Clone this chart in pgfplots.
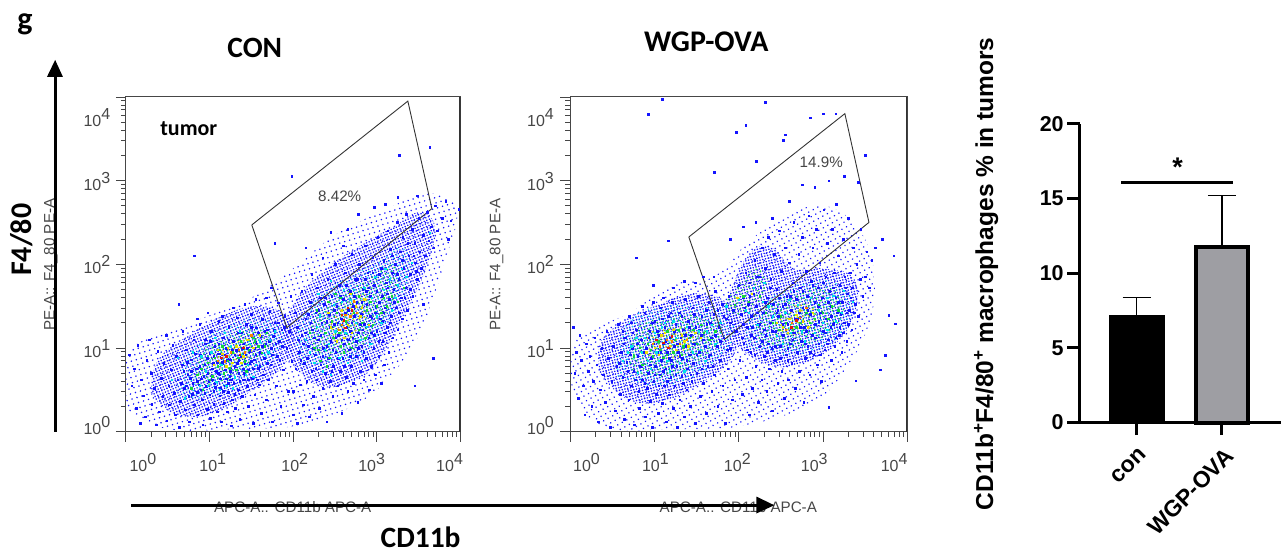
\documentclass[border=0pt]{standalone}
\usepackage{pgfplots}
\pgfplotsset{compat=1.18}
\usetikzlibrary{patterns.meta}
\usepackage{fontspec}
\setmainfont{Carlito}
\newfontfamily\ar{Liberation Sans}
\definecolor{fb}{RGB}{20,20,255}
\definecolor{fc}{RGB}{0,225,235}
\definecolor{fg}{RGB}{20,215,60}
\definecolor{fy}{RGB}{235,225,0}
\definecolor{fo}{RGB}{250,130,0}
\definecolor{fr}{RGB}{225,25,10}
\definecolor{tg}{RGB}{70,70,70}
\newcommand\pw[1]{{\ar\fontsize{16}{16}\selectfont\color{tg}10\raisebox{7pt}{#1}}}
\newcommand\fl[1]{{\ar\fontsize{15.2}{15.2}\selectfont\color{tg}#1}}
\pgfplotsset{
 flow/.style={scale only axis,width=335pt,height=335pt,xmin=0,xmax=4,ymin=0,ymax=4,
  xtick={0,1,2,3,4},ytick={0,1,2,3,4},
  minor xtick={.301,.477,.602,.699,.778,.845,.903,.954,1.301,1.477,1.602,1.699,1.778,1.845,1.903,1.954,2.301,2.477,2.602,2.699,2.778,2.845,2.903,2.954,3.301,3.477,3.602,3.699,3.778,3.845,3.903,3.954},
  minor ytick={.301,.477,.602,.699,.778,.845,.903,.954,1.301,1.477,1.602,1.699,1.778,1.845,1.903,1.954,2.301,2.477,2.602,2.699,2.778,2.845,2.903,2.954,3.301,3.477,3.602,3.699,3.778,3.845,3.903,3.954},
  xticklabels={},yticklabels={},tick align=outside,xtick pos=bottom,ytick pos=left,
  major tick length=10pt,minor tick length=5pt,
  axis line style={draw=tg,line width=.9pt},
  tick style={draw=tg,line width=.8pt},
  minor tick style={draw=tg,line width=.8pt}},
 pb/.style={only marks,mark=square*,mark size=.8pt,fb,mark options={draw=none}},
 pc/.style={only marks,mark=square*,mark size=.65pt,fc,mark options={draw=none}},
 pg/.style={only marks,mark=square*,mark size=.7pt,fg,mark options={draw=none}},
 py/.style={only marks,mark=square*,mark size=.7pt,fy,mark options={draw=none}},
 po/.style={only marks,mark=square*,mark size=.7pt,fo,mark options={draw=none}},
 pr/.style={only marks,mark=square*,mark size=.7pt,fr,mark options={draw=none}},
 st/.style n args={4}{draw=none,no marks,smooth,tension=.7,pattern={Dots[distance=#2pt,radius=#3pt,angle=#4]},pattern color=#1},
 gate/.style={draw=black!80,line width=.9pt,no marks}}
\begin{document}
\begin{tikzpicture}[x=1pt,y=1pt]
\path (0,0) rectangle (1282,554);
% ---------- headings
\node[font=\fontsize{32}{32}\selectfont\bfseries] at (25,530) {g};
\node[font=\fontsize{29.5}{29.5}\selectfont\bfseries] at (255,506) {CON};
\node[font=\fontsize{30}{30}\selectfont\bfseries] at (707,512) {WGP-OVA};
\node[font=\fontsize{30}{30}\selectfont\bfseries,rotate=90] at (22,314) {F4/80};
\node[font=\fontsize{29.5}{29.5}\selectfont\bfseries,inner sep=0pt] at (421,16) {CD11b};
% ---------- CON
\begin{axis}[flow,at={(126pt,122pt)},anchor=south west]
\addplot[st={fb}{5.2}{.85}{17}] coordinates {(.02,.25)(.5,.03)(1.3,.03)(2.1,.08)(2.7,.3)(3.1,.6)(3.5,1.15)(3.8,2.0)(3.95,2.65)(3.6,2.85)(3.1,2.65)(2.5,2.35)(2,1.95)(1.5,1.6)(.9,1.35)(.35,1.15)(.02,.9)(.02,.25)} --cycle;
\addplot[st={fb}{2.8}{.9}{23}] coordinates {(.3,.45)(.6,.2)(1.05,.22)(1.45,.45)(1.85,.75)(2.02,1.1)(1.9,1.4)(1.55,1.5)(1.15,1.38)(.75,1.15)(.38,.85)(.3,.45)} --cycle;
\addplot[st={fb}{2.8}{.9}{23}] coordinates {(1.95,.85)(2.3,.55)(2.72,.6)(3.02,.85)(3.3,1.35)(3.55,1.85)(3.7,2.4)(3.52,2.62)(3.2,2.45)(2.8,2.22)(2.4,1.95)(2.05,1.6)(1.88,1.2)(1.95,.85)} --cycle;
\addplot[st={fc}{4.6}{.8}{38}] coordinates {(.6,.4)(1.2,.45)(1.7,.8)(1.9,1.15)(1.6,1.35)(1.2,1.25)(.75,.95)(.6,.4)} --cycle;
\addplot[st={fc}{4.6}{.8}{38}] coordinates {(2.1,.8)(2.75,.85)(3.1,1.25)(3.4,1.8)(3.3,2.2)(2.85,1.95)(2.35,1.65)(2.05,1.25)(2.1,.8)} --cycle;
\addplot[st={fg}{4.8}{.9}{61}] coordinates {(.85,.55)(1.2,.6)(1.55,.85)(1.75,1.1)(1.6,1.25)(1.25,1.15)(.9,.95)(.85,.55)} --cycle;
\addplot[st={fg}{4.8}{.9}{61}] coordinates {(2.25,.95)(2.7,.95)(3,1.25)(3.25,1.7)(3.2,2.0)(2.85,1.8)(2.45,1.55)(2.2,1.25)(2.25,.95)} --cycle;
\addplot[st={fy}{5.6}{.9}{11}] coordinates {(1.05,.75)(1.35,.8)(1.55,1.0)(1.45,1.12)(1.15,.98)(1.05,.75)} --cycle;
\addplot[st={fy}{5.6}{.9}{11}] coordinates {(2.45,1.1)(2.7,1.1)(2.9,1.45)(2.85,1.65)(2.6,1.5)(2.45,1.3)(2.45,1.1)} --cycle;
\addplot[pb] coordinates {(.04,.92)(.07,.55)(.1,.75)(.12,.28)(.14,1.03)(.17,.1)(.18,.62)(.21,.43)(.23,.18)(.25,.85)(.28,1.1)(.3,.7)(.31,.33)(.34,.52)(.36,.08)(.38,.96)(.4,.24)(.42,.64)(.44,.42)(.45,.82)(.48,1.15)(.49,.13)(.51,.55)(.52,.32)(.54,.74)(.56,1.03)(.58,.46)(.59,.2)(.6,.9)(.62,.62)(.64,.05)(.65,.36)(.67,.8)(.68,1.2)(.7,.52)(.71,.26)(.72,.98)(.74,.68)(.75,.42)(.76,.12)(.78,.86)(.8,.58)(.81,1.1)(.82,.32)(.84,.75)(.85,.47)(.86,.2)(.88,1.28)(.89,.92)(.9,.63)(.91,.38)(.92,.08)(.94,.8)(.95,1.05)(.96,.54)(.97,.27)(.98,.7)(1,.94)(1,.44)(1.01,.16)(1.02,1.2)(1.03,.62)(1.04,.82)(1.05,.33)(1.06,1.02)(1.07,.53)(1.08,.72)(1.09,.24)(1.1,.93)(1.11,1.32)(1.12,.43)(1.13,.63)(1.14,.12)(1.15,.83)(1.16,1.12)(1.17,.34)(1.18,.55)(1.19,.74)(1.2,1)(1.21,.24)(1.22,.47)(1.23,1.25)(1.24,.66)(1.25,.86)(1.26,.07)(1.27,.38)(1.28,1.08)(1.29,.58)(1.3,.78)(1.31,.28)(1.32,.97)(1.33,1.36)(1.34,.5)(1.35,.7)(1.36,.15)(1.37,.9)(1.38,1.18)(1.39,.42)(1.4,.62)(1.41,1.05)(1.42,.82)(1.44,1.28)(1.45,.54)(1.46,.3)(1.47,.74)(1.48,.96)(1.49,1.15)(1.5,1.4)(1.51,.64)(1.52,.1)(1.53,.86)(1.54,.44)(1.55,1.06)(1.56,1.24)(1.58,.76)(1.59,.56)(1.6,.95)(1.61,1.14)(1.62,.22)(1.63,1.34)(1.64,.68)(1.65,.88)(1.67,1.05)(1.68,.38)(1.69,1.22)(1.7,.62)(1.72,1.44)(1.73,.8)(1.74,1.0)(1.75,.12)(1.76,1.14)(1.78,1.3)(1.8,.55)(1.81,.9)(1.82,1.54)(1.83,1.08)(1.85,.3)(1.86,1.22)(1.88,.74)(1.9,1.38)(1.92,1.0)(1.94,.48)(1.95,1.2)(1.97,1.62)(2,.2)(1.98,.84)(.85,1.35)(.98,1.42)(1.15,1.38)(1.28,1.48)(1.42,1.52)(1.55,1.58)(1.68,1.6)(1.74,1.72)(.82,2.1)(.63,1.52)(.95,1.1)(1.05,.9)(1.1,.7)(1.18,.92)(1.25,.72)(1.3,.92)(1.35,.85)(1.4,.75)(1.45,1.0)(1.5,.84)(1.55,.92)(1.05,.48)(1.13,.52)(1.22,.58)(.9,.5)(.85,.6)(.78,.72)(.72,.55)
(.66,.58)(.69,.72)(.73,.83)(.77,.64)(.79,.45)(.83,.93)(.87,.56)(.88,.78)(.93,.66)(.94,.46)(.97,.88)(.99,.6)(1.01,1.08)(1.03,.75)(1.06,.58)(1.09,.83)(1.11,1.05)(1.12,.68)(1.14,.93)(1.16,.48)(1.2,.63)(1.21,.85)(1.23,1.1)(1.26,.62)(1.27,.98)(1.3,.45)(1.33,.82)(1.34,1.18)(1.36,.6)(1.39,1.0)(1.41,.7)(1.43,.92)(1.46,.62)(1.48,.82)(1.5,1.25)(1.52,.75)(1.54,1.0)(1.57,.62)(1.58,1.18)(1.6,.78)(1.63,1.02)(1.66,1.2)(1.69,.82)(1.71,1.08)(1.75,.92)(1.77,1.22)(1.79,1.05)(1.82,1.3)(1.84,.85)(1.87,1.02)(1.89,1.25)
(2,.48)(2.03,.75)(2.05,.1)(2.07,.95)(2.08,.56)(2.1,1.15)(2.12,.32)(2.13,.82)(2.15,1.35)(2.16,.6)(2.18,1.02)(2.19,.18)(2.2,1.55)(2.22,.72)(2.23,1.22)(2.24,.42)(2.26,.92)(2.27,1.42)(2.28,.62)(2.29,1.72)(2.3,1.1)(2.31,.28)(2.33,.8)(2.34,1.3)(2.35,.52)(2.36,1.0)(2.37,1.52)(2.38,.7)(2.39,1.18)(2.4,.12)(2.41,1.82)(2.42,.88)(2.43,1.4)(2.44,.6)(2.45,1.08)(2.46,1.62)(2.47,.42)(2.48,.78)(2.49,1.28)(2.5,2.0)(2.51,.95)(2.52,1.5)(2.53,.55)(2.54,1.15)(2.55,1.75)(2.56,.72)(2.57,1.35)(2.58,.22)(2.59,.88)(2.6,1.58)(2.61,1.05)(2.62,1.9)(2.63,.65)(2.64,1.25)(2.65,.48)(2.66,1.45)(2.67,.98)(2.68,1.68)(2.69,.78)(2.7,2.12)(2.71,1.12)(2.72,.58)(2.73,1.38)(2.74,1.82)(2.75,.9)(2.76,1.55)(2.77,.35)(2.78,1.18)(2.79,2.0)(2.8,.72)(2.81,1.4)(2.82,1.02)(2.83,1.7)(2.84,.62)(2.85,1.28)(2.86,2.22)(2.87,.88)(2.88,1.52)(2.89,1.9)(2.9,1.12)(2.91,.5)(2.92,1.62)(2.93,.78)(2.94,1.36)(2.95,2.08)(2.96,1.0)(2.97,1.75)(2.98,.68)(2.99,1.5)(3,1.2)(3.01,2.32)(3.02,.9)(3.03,1.88)(3.04,1.35)(3.05,.58)(3.06,1.62)(3.07,1.08)(3.08,2.05)(3.09,.8)(3.1,1.48)(3.11,1.78)(3.12,1.25)(3.13,2.4)(3.14,.95)(3.15,1.58)(3.16,2.18)(3.17,1.38)(3.18,1.9)(3.19,1.12)(3.2,1.7)(3.22,2.0)(3.23,1.48)(3.24,2.5)(3.25,1.22)(3.26,1.82)(3.28,2.15)(3.29,1.6)(3.3,1.35)(3.31,2.32)(3.32,1.95)(3.34,1.72)(3.35,2.6)(3.36,1.45)(3.38,2.1)(3.4,1.88)(3.42,2.42)(3.43,1.62)(3.45,2.25)(3.46,2.02)(3.48,1.82)(3.5,2.55)(3.51,2.15)(3.53,1.95)(3.55,2.35)(3.58,2.1)(3.6,2.62)(3.62,2.28)(3.65,2.45)(3.68,2.2)(3.7,2.7)(3.72,2.4)(3.78,2.55)(3.82,2.75)(3.88,2.52)(3.98,2.66)(3.85,2.3)(3.45,.55)(3.55,1.52)(3.67,.88)(3.48,2.82)(3.25,2.8)(3.1,2.72)(2.97,2.68)(3.27,3.3)(3.63,3.4)(2.78,2.6)(2.65,2.42)(1.98,3.05)(2.15,2.2)(1.78,2.25)(2.45,2.38)(2.6,2.22)(2.35,2.08)(2.22,1.88)(2.1,1.68)(2.02,1.42)(2.05,1.25)(2.12,1.05)(2.18,1.4)(2.25,1.12)(2.32,1.6)(2.4,1.32)(2.47,.98)(2.53,1.3)(2.58,1.1)(2.62,1.42)(2.68,1.2)(2.72,1.5)(2.78,1.0)(2.83,1.22)(2.87,1.68)(2.92,1.38)(2.97,1.15)(3.03,1.55)(3.07,1.32)(3.12,1.65)
(2.06,1.1)(2.09,.85)(2.14,1.18)(2.17,.88)(2.21,1.3)(2.24,1.0)(2.27,.75)(2.3,1.45)(2.33,1.15)(2.35,.9)(2.38,1.6)(2.4,1.02)(2.44,1.25)(2.46,.72)(2.49,1.45)(2.51,1.12)(2.54,.88)(2.56,1.62)(2.59,1.22)(2.61,.78)(2.63,1.75)(2.66,1.1)(2.68,.9)(2.7,1.3)(2.73,1.62)(2.75,1.08)(2.77,1.82)(2.8,1.28)(2.82,1.55)(2.84,.95)(2.86,1.82)(2.9,1.72)(2.93,1.18)(2.95,1.9)(2.98,1.42)(3,1.68)(3.02,1.08)(3.05,1.95)(3.08,1.42)(3.1,1.18)(3.13,1.72)(3.16,1.3)(3.18,2.1)(3.21,1.55)(3.24,1.88)(3.27,1.42)(3.3,2.05)(3.33,1.6)(3.37,2.25)(3.4,1.7)(3.44,2.1)(3.47,1.92)};
\addplot[pc] coordinates {(.95,.72)(1.02,.95)(1.08,.6)(1.14,.8)(1.2,.55)(1.25,1.02)(1.3,.65)(1.38,.92)(1.43,.68)(1.48,1.05)(1.55,.8)(1.6,1.08)(1.66,.92)(1.72,1.1)(1.78,1.2)(.7,.4)(.55,.62)(.88,.55)(2.2,.95)(2.28,1.25)(2.35,.72)(2.42,1.05)(2.48,1.52)(2.55,.88)(2.62,1.18)(2.68,1.58)(2.75,1.3)(2.82,.85)(2.88,1.25)(2.94,1.6)(3,1.38)(3.08,1.7)(3.15,1.82)(3.22,1.6)(3.3,1.95)(3.42,2.02)(2.3,1.65)(2.45,1.8)(2.6,1.7)(3.63,2.38)(.8,.95)(.62,.88)(.9,.9)(.98,.55)(1.06,1.12)(1.12,.5)(1.18,1.18)(1.28,.52)(1.36,1.2)(1.46,.8)(1.52,.66)(1.7,.95)(2.15,1.1)(2.25,.82)(2.32,1.38)(2.38,.98)(2.45,.68)(2.5,1.2)(2.58,1.55)(2.65,.82)(2.72,1.7)(2.8,1.1)(2.85,1.72)(2.92,1.05)(2.98,1.85)(3.05,1.3)(3.1,1.95)(3.18,1.45)(3.25,1.75)(3.35,1.85)};
\addplot[pg] coordinates {(.85,.68)(.92,.5)(.98,.82)(1.03,.66)(1.1,.78)(1.12,.98)(1.17,.7)(1.22,.85)(1.28,.95)(1.32,.74)(1.37,1.08)(1.42,.84)(1.47,.98)(1.52,1.12)(1.58,1.02)(1.62,.94)(1.68,1.18)(.78,.52)(2.25,1.0)(2.32,.85)(2.38,1.18)(2.43,.88)(2.48,1.12)(2.52,1.42)(2.57,1.02)(2.63,1.32)(2.66,1.05)(2.72,1.42)(2.78,1.62)(2.82,1.3)(2.88,1.45)(2.92,1.55)(3.0,1.5)(3.05,1.42)(3.12,1.5)(2.28,1.45)(2.42,1.55)(2.5,1.65)(2.56,1.6)(3.32,1.72)(.9,.75)(1,.62)(1.06,.88)(1.15,1.02)(1.24,.76)(1.34,.88)(1.44,.72)(1.54,1.08)(1.66,1.02)(2.2,1.18)(2.3,.98)(2.4,.78)(2.46,1.32)(2.55,1.18)(2.6,.95)(2.7,1.0)(2.78,1.22)(2.86,1.12)(2.95,1.28)(3.08,1.6)(3.18,1.62)(3.25,1.55)};
\addplot[py] coordinates {(1.05,.8)(1.15,.93)(1.2,.78)(1.27,.82)(1.32,1.02)(1.38,.82)(1.45,1.1)(1.52,1.0)(1.6,1.15)(2.45,1.25)(2.52,1.08)(2.58,1.45)(2.65,1.28)(2.7,1.18)(2.75,1.5)(2.82,1.48)(2.68,1.65)(2.9,1.28)(1.1,.98)(1.22,1.0)(1.4,.9)(2.42,1.42)(2.6,1.12)(2.8,1.38)(2.85,1.58)};
\addplot[po] coordinates {(1.1,.85)(1.18,.84)(1.25,.95)(1.35,.98)(1.42,.95)(1.5,1.15)(2.55,1.22)(2.62,1.4)(2.68,1.38)(2.76,1.42)(2.58,1.28)(2.72,1.56)};
\addplot[pr] coordinates {(1.14,.88)(1.2,.9)(1.36,.92)(1.4,1.0)(2.6,1.33)(2.65,1.48)(2.7,1.45)(2.62,1.24)(2.58,1.4)};
\addplot[gate] coordinates {(1.505,2.47)(3.37,3.95)(3.657,2.665)(1.924,1.242)(1.505,2.47)};
\draw[draw=black!80,line width=2.4pt] (rel axis cs:1,0)--(rel axis cs:1,1);
\end{axis}
% ---------- WGP-OVA
\begin{axis}[flow,at={(571pt,122pt)},anchor=south west,width=337pt]
\addplot[st={fb}{5.2}{.85}{29}] coordinates {(.02,.45)(.4,.05)(1.2,.03)(2,.06)(2.8,.3)(3.2,.65)(3.55,1.3)(3.6,1.95)(3.4,2.45)(3,2.7)(2.5,2.55)(2.1,2.25)(1.7,1.85)(1.2,1.75)(.7,1.42)(.2,1.2)(.02,1)(.02,.45)} --cycle;
\addplot[st={fb}{2.8}{.9}{14}] coordinates {(.35,.7)(.65,.4)(1.05,.35)(1.5,.55)(1.9,.85)(2.0,1.25)(1.85,1.55)(1.45,1.65)(1,1.5)(.6,1.3)(.35,1.05)(.35,.7)} --cycle;
\addplot[st={fb}{2.8}{.9}{14}] coordinates {(2,1.0)(2.4,.78)(2.85,.85)(3.2,1.1)(3.4,1.5)(3.35,1.85)(3.0,1.95)(2.65,1.95)(2.4,2.2)(2.15,2.15)(1.95,1.8)(1.85,1.4)(2,1.0)} --cycle;
\addplot[st={fc}{4.6}{.8}{47}] coordinates {(.55,.65)(1.1,.55)(1.65,.75)(1.95,1.2)(1.7,1.5)(1.15,1.5)(.65,1.3)(.55,.65)} --cycle;
\addplot[st={fc}{4.6}{.8}{47}] coordinates {(2.1,1.0)(2.7,.92)(3.2,1.15)(3.35,1.55)(3.1,1.8)(2.6,1.72)(2.15,1.4)(2.1,1.0)} --cycle;
\addplot[st={fg}{4.8}{.9}{68}] coordinates {(.7,.75)(1.1,.65)(1.55,.85)(1.8,1.2)(1.6,1.38)(1.15,1.38)(.75,1.2)(.7,.75)} --cycle;
\addplot[st={fg}{4.8}{.9}{68}] coordinates {(2.25,1.05)(2.7,1.0)(3.1,1.2)(3.25,1.5)(3.05,1.72)(2.6,1.62)(2.25,1.4)(2.25,1.05)} --cycle;
\addplot[st={fg}{4.8}{.9}{68}] coordinates {(1.9,1.4)(2.15,1.45)(2.35,1.75)(2.2,1.95)(2,1.75)(1.85,1.55)(1.9,1.4)} --cycle;
\addplot[st={fy}{5.6}{.9}{8}] coordinates {(.9,.92)(1.25,.88)(1.5,1.05)(1.45,1.22)(1.1,1.25)(.9,1.12)(.9,.92)} --cycle;
\addplot[st={fy}{5.6}{.9}{8}] coordinates {(2.45,1.15)(2.75,1.18)(2.95,1.35)(2.8,1.52)(2.5,1.42)(2.45,1.15)} --cycle;
\addplot[pb] coordinates {(.03,1.25)(.05,.7)(.07,.95)(.09,.4)(.11,1.15)(.13,.85)(.15,.55)(.17,.2)(.19,1.05)(.21,.72)(.23,.9)(.25,.3)(.27,.6)(.29,1.12)(.31,.8)(.33,.12)(.35,.5)(.37,1.0)(.39,.68)(.41,.35)(.43,1.2)(.45,.88)(.47,.05)(.49,.6)(.51,1.02)(.53,.25)(.55,.78)(.57,1.28)(.59,.45)(.6,.95)(.62,.65)(.64,.15)(.65,1.12)(.67,.83)(.69,.38)(.7,1.38)(.72,.55)(.73,1.0)(.75,.72)(.76,.08)(.78,1.22)(.8,.9)(.81,.48)(.82,.28)(.84,1.1)(.85,.62)(.86,.8)(.88,1.42)(.89,.18)(.9,1.0)(.91,.52)(.92,.7)(.94,1.2)(.95,.36)(.96,.88)(.97,.05)(.98,1.05)(.99,.6)(1,1.32)(1.01,.78)(1.02,.45)(1.03,.95)(1.04,.22)(1.05,1.15)(1.06,.68)(1.07,1.48)(1.08,.85)(1.09,.34)(1.1,1.05)(1.11,.55)(1.12,1.25)(1.13,.75)(1.14,.12)(1.15,.95)(1.16,1.38)(1.17,.44)(1.18,1.12)(1.19,.65)(1.2,.85)(1.21,1.55)(1.22,.28)(1.23,1.02)(1.24,.55)(1.25,1.28)(1.26,.78)(1.27,.05)(1.28,.95)(1.29,1.42)(1.3,.38)(1.31,1.12)(1.32,.66)(1.33,.88)(1.34,1.22)(1.35,.18)(1.36,1.58)(1.37,1.02)(1.38,.5)(1.39,.75)(1.4,1.32)(1.41,.92)(1.42,.3)(1.43,1.15)(1.44,.6)(1.45,1.48)(1.46,.82)(1.47,1.05)(1.48,.1)(1.49,1.25)(1.5,.7)(1.52,1.62)(1.53,.95)(1.54,.42)(1.55,1.15)(1.56,1.38)(1.58,.58)(1.6,1.02)(1.61,.22)(1.62,1.28)(1.63,.78)(1.64,1.55)(1.66,.92)(1.67,1.12)(1.68,.48)(1.7,1.4)(1.71,.68)(1.72,1.68)(1.74,1.02)(1.75,.3)(1.76,1.25)(1.78,.85)(1.8,1.52)(1.81,.55)(1.82,1.12)(1.84,.1)(1.85,1.35)(1.87,.75)(1.88,1.62)(1.9,1.0)(1.92,.38)(1.93,1.45)(1.95,.62)(1.97,1.2)(.62,1.2)(.72,1.3)(.85,1.5)(.98,1.55)(1.1,1.6)(1.22,1.72)(1.35,1.8)(1.48,1.78)(1.58,1.85)(1.7,1.85)(.98,1.75)(1.16,2.28)(.78,2.08)(1.09,3.97)(.92,3.79)(1.71,3.1)
(.58,.82)(.63,1.05)(.68,.72)(.71,.92)(.74,1.18)(.77,.62)(.79,1.05)(.83,.78)(.87,.95)(.88,.58)(.93,1.12)(.95,.8)(.97,1.3)(1,.68)(1.03,1.2)(1.05,.55)(1.07,.95)(1.09,1.35)(1.1,.72)(1.13,1.08)(1.15,.6)(1.17,.88)(1.19,1.42)(1.21,.78)(1.23,1.2)(1.25,.68)(1.27,1.05)(1.3,.9)(1.32,1.38)(1.34,.58)(1.36,1.15)(1.38,.85)(1.41,1.25)(1.43,.68)(1.45,1.05)(1.47,1.4)(1.5,.92)(1.53,1.22)(1.56,.75)(1.58,1.1)(1.61,1.45)(1.64,.9)(1.66,1.3)(1.69,.78)(1.72,1.15)(1.75,1.45)(1.78,1.08)(1.82,1.38)(1.86,.98)(1.9,1.3)
(2,1.75)(2.01,.85)(2.03,1.4)(2.04,.45)(2.05,1.6)(2.06,1.05)(2.08,1.9)(2.09,.65)(2.1,1.25)(2.11,1.52)(2.12,.2)(2.13,1.78)(2.14,.95)(2.15,1.38)(2.16,.52)(2.17,1.65)(2.18,1.12)(2.19,2.05)(2.2,.78)(2.21,1.5)(2.22,1.85)(2.23,.35)(2.24,1.28)(2.25,1.02)(2.26,1.72)(2.27,.62)(2.28,2.2)(2.29,1.42)(2.3,.9)(2.31,1.95)(2.32,1.15)(2.33,.48)(2.34,1.6)(2.35,2.32)(2.36,.75)(2.37,1.3)(2.38,1.82)(2.39,1.0)(2.4,.25)(2.41,1.52)(2.42,2.12)(2.43,.85)(2.44,1.2)(2.45,1.7)(2.46,.58)(2.47,1.38)(2.48,2.4)(2.49,1.02)(2.5,1.92)(2.51,.72)(2.52,1.5)(2.53,1.15)(2.54,.4)(2.55,2.2)(2.56,.92)(2.57,1.62)(2.58,1.28)(2.59,.62)(2.6,2.02)(2.61,1.05)(2.62,1.45)(2.63,.82)(2.64,1.78)(2.65,2.5)(2.66,1.18)(2.67,.52)(2.68,1.58)(2.69,.95)(2.7,1.35)(2.71,2.12)(2.72,.72)(2.73,1.72)(2.74,1.08)(2.75,2.32)(2.76,1.48)(2.77,.35)(2.78,1.25)(2.79,.88)(2.8,1.92)(2.81,1.62)(2.82,1.02)(2.83,2.58)(2.84,.68)(2.85,1.4)(2.86,1.8)(2.87,1.15)(2.88,2.2)(2.89,.92)(2.9,1.55)(2.91,1.28)(2.92,2.42)(2.93,.8)(2.94,1.72)(2.95,1.05)(2.96,2.02)(2.97,1.42)(2.98,.6)(2.99,1.6)(3,1.2)(3.01,2.65)(3.02,.98)(3.03,1.85)(3.04,1.35)(3.05,2.25)(3.06,1.1)(3.07,.29)(3.08,1.68)(3.09,1.5)(3.1,.85)(3.11,2.42)(3.12,1.28)(3.13,1.9)(3.14,1.02)(3.15,1.6)(3.16,2.72)(3.17,1.42)(3.18,2.1)(3.19,1.15)(3.2,1.75)(3.22,.95)(3.23,1.55)(3.24,2.3)(3.25,1.3)(3.26,1.85)(3.28,1.08)(3.29,1.65)(3.3,2.55)(3.31,1.45)(3.32,1.9)(3.34,1.22)(3.35,1.72)(3.36,2.2)(3.38,1.52)(3.39,.61)(3.4,2.0)(3.42,1.38)(3.44,1.82)(3.45,2.42)(3.47,1.62)(3.5,1.85)(3.52,2.15)(3.55,1.72)(3.58,2.05)(3.62,2.2)(3.68,.74)(3.74,.91)(3.78,1.39)(3.86,1.29)(3.7,2.3)(3.84,2.1)(3.42,2.98)(3.25,3.05)(3.07,3.0)(2.53,3.48)(2.21,3.23)(2.31,3.94)(2.08,3.66)(1.97,3.58)(2.55,3.55)(2.85,3.75)(3.0,3.8)(3.15,3.8)(2.75,2.95)(2.9,2.92)(2.4,2.55)(2.6,2.75)(3.5,3.3)(1.9,2.3)(2.05,2.45)(2.2,2.5)(2.45,1.42)(2.35,1.05)(2.58,1.0)(2.72,1.42)(2.95,1.32)(3.1,1.38)(3.2,1.25)(3.05,1.05)(2.8,1.2)(2.65,1.68)(2.48,1.6)(2.3,1.22)(2.15,1.15)(2.05,1.28)(3.28,1.42)
(2.04,1.12)(2.07,1.48)(2.1,.98)(2.13,1.62)(2.16,1.25)(2.19,.92)(2.22,1.42)(2.25,1.85)(2.28,1.08)(2.31,1.55)(2.34,.95)(2.37,1.72)(2.4,1.2)(2.43,1.02)(2.46,1.45)(2.49,.88)(2.52,1.28)(2.55,1.52)(2.58,.85)(2.61,1.62)(2.64,1.1)(2.67,1.35)(2.7,.95)(2.73,1.25)(2.76,1.68)(2.79,1.05)(2.82,1.45)(2.85,.95)(2.88,1.75)(2.91,1.12)(2.94,1.5)(2.97,.92)(3,1.78)(3.03,1.18)(3.06,1.55)(3.09,1.25)(3.12,1.72)(3.15,1.12)(3.18,1.55)(3.21,1.4)(3.24,1.18)(3.27,1.72)(3.3,1.28)(3.33,1.6)(3.37,1.42)};
\addplot[pc] coordinates {(.62,.85)(.72,1.02)(.8,.7)(.88,1.12)(.95,.75)(1,1.18)(1.05,.85)(1.12,1.3)(1.18,.72)(1.25,1.12)(1.3,.82)(1.38,1.25)(1.45,.95)(1.52,1.2)(1.6,.85)(1.68,1.28)(1.78,1.3)(1.85,1.5)(2.0,1.58)(2.08,1.45)(2.18,1.72)(2.3,1.78)(2.22,1.28)(2.35,1.5)(2.45,1.15)(2.55,1.42)(2.62,1.18)(2.7,1.52)(2.78,1.08)(2.85,1.6)(2.95,1.45)(3.05,1.6)(3.15,1.32)(3.25,1.68)(3.35,1.55)(3.05,1.22)(.68,.95)(.78,1.12)(.85,.95)(.92,.85)(1.02,.95)(1.08,1.25)(1.15,.85)(1.22,1.32)(1.35,.72)(1.42,1.0)(1.55,.98)(1.62,1.2)(1.72,1.05)(2.12,1.42)(2.28,1.55)(2.4,1.38)(2.52,1.05)(2.6,1.58)(2.75,1.2)(2.9,1.18)(3,1.3)(3.12,1.62)(3.22,1.42)};
\addplot[pg] coordinates {(.75,.9)(.85,.8)(.92,1.05)(.98,.9)(1.04,1.08)(1.1,.88)(1.15,1.2)(1.22,.95)(1.28,1.22)(1.34,1.02)(1.42,1.12)(1.5,1.05)(1.58,1.18)(1.65,1.1)(1.95,1.52)(2.05,1.62)(2.12,1.55)(2.25,1.62)(2.4,1.3)(2.48,1.22)(2.56,1.3)(2.64,1.22)(2.72,1.3)(2.8,1.42)(2.9,1.35)(3.0,1.42)(3.1,1.5)(3.18,1.45)(.82,1.0)(.95,.98)(1.06,.98)(1.14,.92)(1.24,1.1)(1.32,.92)(1.46,1.22)(1.55,1.28)(1.72,1.2)(2.32,1.42)(2.44,1.3)(2.5,1.38)(2.68,1.25)(2.84,1.3)(2.95,1.52)(3.06,1.35)};
\addplot[py] coordinates {(.9,.95)(1,1.0)(1.08,1.15)(1.18,1.02)(1.25,.98)(1.32,1.15)(1.4,1.02)(1.48,1.18)(1.98,1.6)(2.15,1.65)(2.52,1.25)(2.6,1.35)(2.68,1.4)(2.76,1.32)(2.88,1.42)(1.05,.92)(1.12,1.18)(1.22,1.22)(1.35,1.08)(1.55,1.12)(2.45,1.3)(2.58,1.18)(2.72,1.45)(2.82,1.25)};
\addplot[po] coordinates {(.98,1.05)(1.06,1.02)(1.14,1.1)(1.2,1.08)(1.3,1.05)(1.38,1.1)(2.56,1.22)(2.63,1.3)(2.72,1.36)(2.8,1.48)};
\addplot[pr] coordinates {(1.02,1.1)(1.1,1.06)(1.16,1.0)(1.2,1.14)(2.62,1.25)(2.68,1.33)};
\addplot[gate] coordinates {(1.406,2.326)(3.26,3.80)(3.546,2.50)(1.828,1.10)(1.406,2.326)};
\draw[draw=black!80,line width=2.4pt] (rel axis cs:1,0)--(rel axis cs:1,1);
\end{axis}
% ---------- flow tick labels and texts
\foreach \n/\x/\y in {0/143/91,1/213/91,2/295/91,3/372/91,4/450/91,0/97/128,1/97/205,2/97/289,3/97/372,4/97/436}{\node at (\x,\y) {\pw{\n}};}
\foreach \n/\x/\y in {0/587/91,1/656/91,2/738/91,3/815/91,4/895/91,0/541/128,1/541/205,2/541/289,3/541/372,4/541/436}{\node at (\x,\y) {\pw{\n}};}
\node[font=\fontsize{22}{22}\selectfont\bfseries] at (189,425) {tumor};
\node at (340,358) {\fl{8.42\%}};
\node at (822,392) {\fl{14.9\%}};
\node[rotate=90] at (51,289) {\fl{PE-A:: F4\_80 PE-A}};
\node[rotate=90] at (497,289) {\fl{PE-A:: F4\_80 PE-A}};
\node at (293,46) {\fl{APC-A:: CD11b APC-A}};
\node at (739,46) {\fl{APC-A:: CD11b APC-A}};
% ---------- arrows
\fill[black] (53.6,122) rectangle (56.6,480);
\fill[black] (47,477) -- (63,477) -- (55.2,494) -- cycle;
\fill[black] (131,46.8) rectangle (760,49.8);
\fill[black] (757,40) -- (757,57) -- (775,48.3) -- cycle;
% ---------- bar chart
\begin{axis}[scale only axis,at={(1080.7pt,131pt)},anchor=south west,width=201pt,height=299pt,
 xmin=-.668,xmax=1.688,ymin=0,ymax=20,xtick={0,1},xticklabels={con,WGP-OVA},ytick={0,5,10,15,20},
 yticklabels={0,5,10,15,20},axis lines*=left,axis line style={line width=3pt,-},
 tick style={black,line width=3pt},major tick length=12.5pt,tick align=outside,
 xticklabel style={font=\ar\bfseries\fontsize{23}{23}\selectfont,rotate=45,anchor=north east,xshift=-3pt,yshift=-6pt},
 yticklabel style={font=\ar\bfseries\fontsize{21.5}{21.5}\selectfont},clip=false]
\addplot[ybar,bar shift=0pt,bar width=56pt,fill=black,draw=none,error bars/.cd,y dir=plus,y explicit,
  error bar style={line width=1.7pt},error mark options={rotate=90,mark size=14pt,line width=1.7pt}]
  coordinates {(0,7.22) +- (0,1.16)};
\addplot[ybar,bar shift=0pt,bar width=52pt,fill={rgb,255:red,158;green,158;blue,163},draw=black,line width=4pt,
  error bars/.cd,y dir=plus,y explicit,error bar style={line width=1.7pt},error mark options={rotate=90,mark size=14pt,line width=1.7pt}]
  coordinates {(1,11.75) +- (0,3.45)};
\addplot[black,line width=3pt,no marks] coordinates {(-.18,16.08)(1.129,16.08)};
\node[font=\ar\bfseries\fontsize{27}{27}\selectfont] at (axis cs:.48,17.1) {*};
\end{axis}
\node[rotate=90,font=\ar\bfseries\fontsize{24.5}{24.5}\selectfont] at (987,280) {CD11b\textsuperscript{+}F4/80\textsuperscript{+} macrophages \% in tumors};
\end{tikzpicture}
\end{document}
